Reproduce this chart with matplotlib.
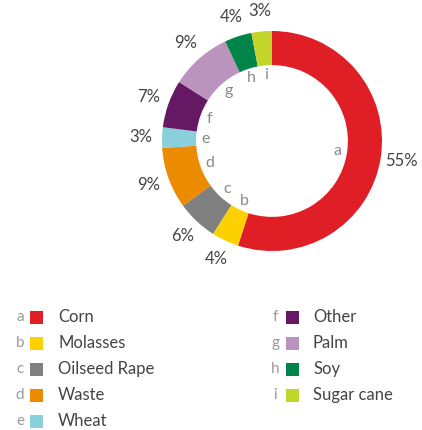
import matplotlib
matplotlib.use("Agg")
import matplotlib.pyplot as plt
from matplotlib.patches import Rectangle

categories = ["Corn", "Molasses", "Oilseed Rape", "Waste", "Wheat", "Other", "Palm", "Soy", "Sugar cane"]
letters = ["a", "b", "c", "d", "e", "f", "g", "h", "i"]
values = [55, 4, 6, 9, 3, 7, 9, 4, 3]
pct_labels = ["55%", "4%", "6%", "9%", "3%", "7%", "9%", "4%", "3%"]
colors = ["#E01E26", "#FDD000", "#808080", "#EC8A00", "#8ACFDC",
          "#651863", "#BB94BE", "#00844A", "#C1D52A"]

plt.rcParams['font.family'] = ['Lato', 'DejaVu Sans']
W, H = 422, 430
fig = plt.figure(figsize=(W / 100, H / 100), dpi=100)

# donut axes
cx, cy, R = 272, 141, 110
half = 150
ax = fig.add_axes([(cx - half) / W, (H - cy - half) / H, 2 * half / W, 2 * half / H])
ax.axis('off')

wedges, t1, t2 = ax.pie(values, colors=colors, startangle=90, counterclock=False,
                        radius=1, wedgeprops=dict(width=0.31, edgecolor='none'),
                        labels=pct_labels, labeldistance=1.19,
                        autopct=lambda p: '', pctdistance=0.6,
                        textprops=dict(fontsize=12, color='#444444'))
ax.set_xlim(-half / R, half / R)
ax.set_ylim(-half / R, half / R)
ax.set_aspect('equal')
for t in t1:
    t.set_horizontalalignment('center')
    t.set_verticalalignment('center')
for t, l in zip(t2, letters):
    t.set_text(l)
    t.set_fontsize(11.5)
    t.set_color('#8a8a8a')
    t.set_horizontalalignment('center')
    t.set_verticalalignment('center')

# legend
rows_y = [317, 343, 369, 395, 421]
col_x = [(20, 30, 58), (275, 286, 313)]
sq = 13
for i, (cat, let, col) in enumerate(zip(categories, letters, colors)):
    c = 0 if i < 5 else 1
    r = i if i < 5 else i - 5
    lx, sx, tx = col_x[c]
    y = rows_y[r]
    fig.text(lx / W, 1 - y / H, let, fontsize=11, color='#9a9a9a', ha='center', va='center')
    fig.patches.append(Rectangle((sx / W, 1 - (y + sq / 2) / H), sq / W, sq / H,
                                 transform=fig.transFigure, facecolor=col, edgecolor='none'))
    fig.text(tx / W, 1 - y / H, cat, fontsize=12, color='#444444', ha='left', va='center')

fig.savefig("out.png", dpi=100)
